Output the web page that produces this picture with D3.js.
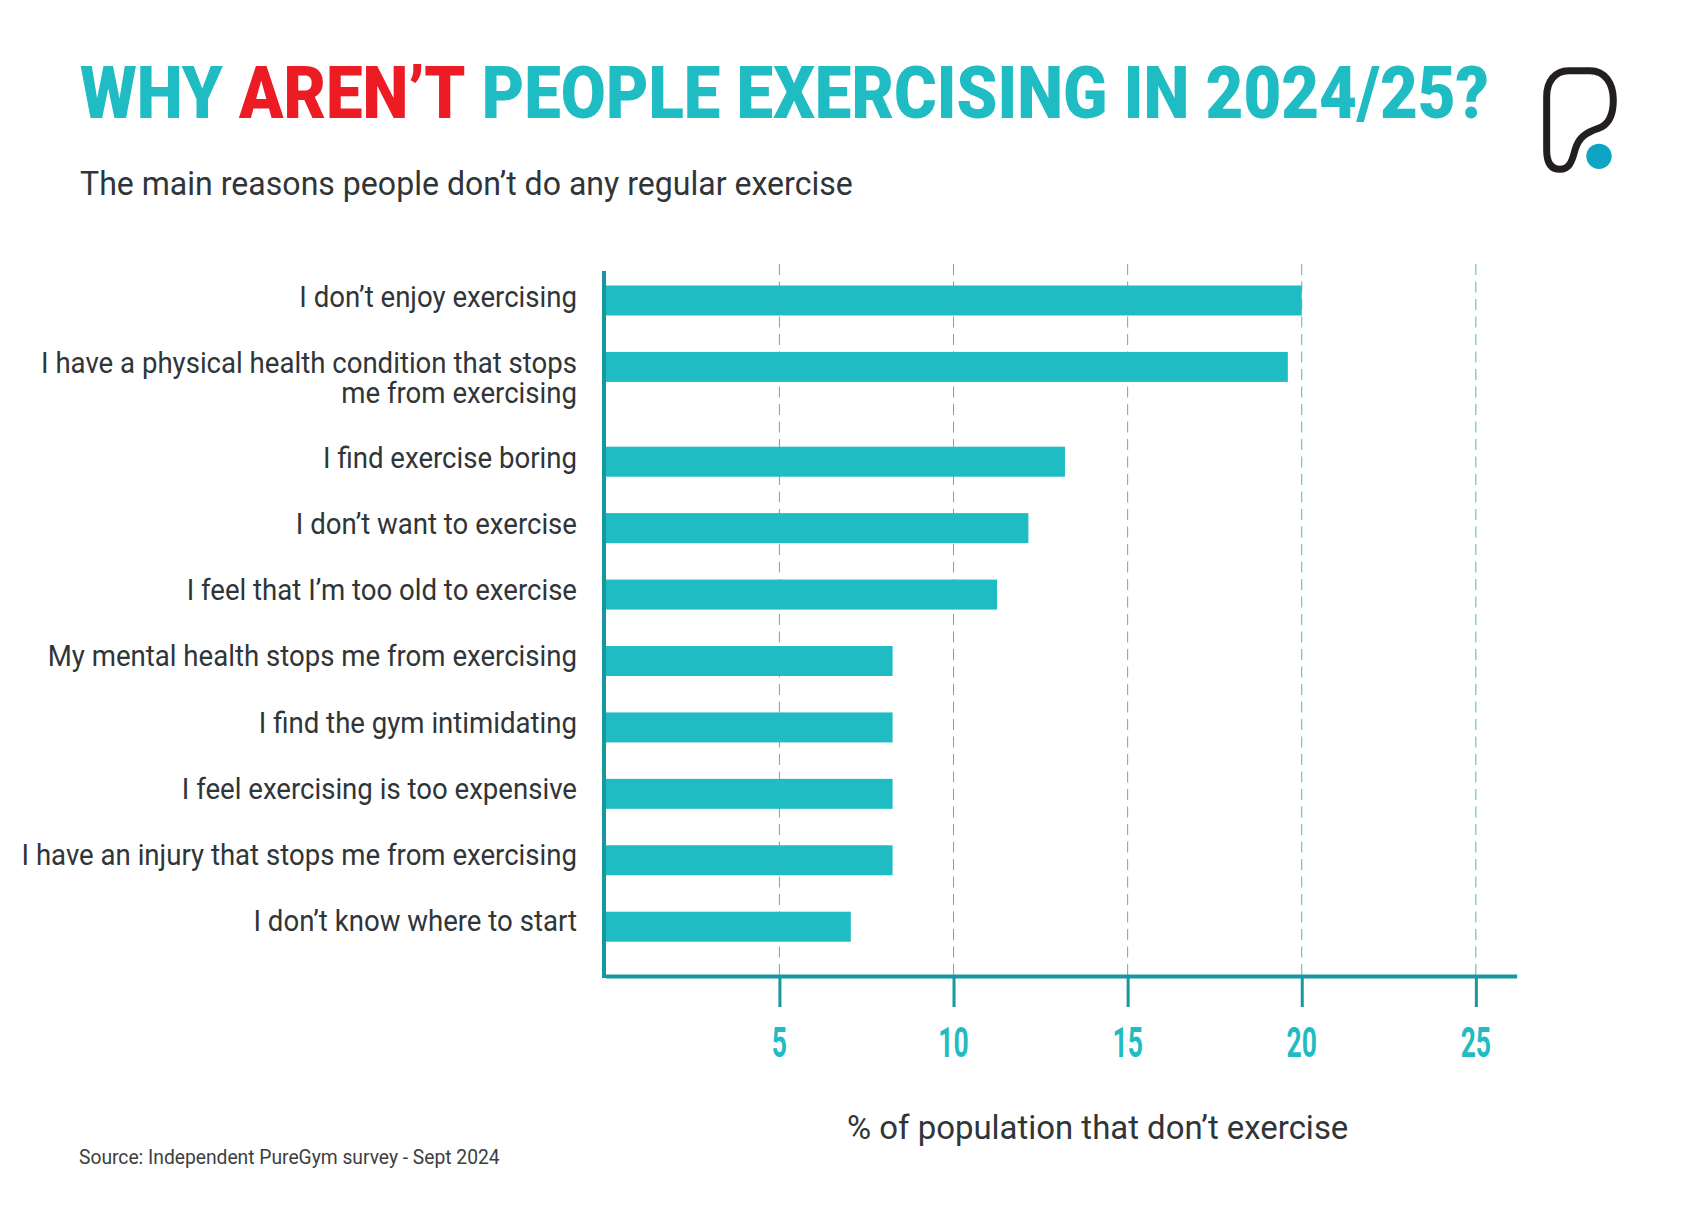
<!DOCTYPE html>
<html>
<head>
<meta charset="utf-8">
<title>Why aren't people exercising in 2024/25?</title>
<script src="https://cdn.jsdelivr.net/npm/d3@7"></script>
<style>
  html, body { margin: 0; background: #fff; }
  svg { display: block; }
  text { font-family: Roboto, "Noto Sans", sans-serif; }
</style>
</head>
<body>
<div id="chart"></div>
<script>
// "\n" marks the wrapped labels, they take up a taller row
const categories = [
  "I don’t enjoy exercising",
  "I have a physical health condition that stops\nme from exercising",
  "I find exercise boring",
  "I don’t want to exercise",
  "I feel that I’m too old to exercise",
  "My mental health stops me from exercising",
  "I find the gym intimidating",
  "I feel exercising is too expensive",
  "I have an injury that stops me from exercising",
  "I don’t know where to start"
]
const values = [20, 19.6, 13.2, 12.15, 11.25, 8.25, 8.25, 8.25, 8.25, 7.05]
const xTicks = [5, 10, 15, 20, 25]
const titleParts = ["WHY ", "AREN’T", " PEOPLE EXERCISING IN 2024/25?"]

const TEAL = "#1fbcc3"
const AXIS = "#17989f"
const GRID = "#4fb6bb"
const RED = "#ed1c24"
const INK = "#2f3538"

const width = 1684
const height = 1217
const plot = { left: 605.3, right: 1516.6, top: 264, bottom: 976 }
const barH = 30
const wrapExtra = 0.427 // extra row height per wrapped line

const svg = d3.select("#chart").append("svg")
  .attr("width", width)
  .attr("height", height)
  .attr("viewBox", `0 0 ${width} ${height}`)

// text helper: Roboto is wider than the original face so squeeze it horizontally
function label(parent, str, x, y, size, k, anchor = "start") {
  return parent.append("text")
    .attr("transform", `translate(${x},${y}) scale(${k},1)`)
    .attr("font-size", size)
    .attr("text-anchor", anchor)
    .attr("fill", INK)
    .text(str)
}

const x = d3.scaleLinear().domain([0, 26.17]).range([plot.left, plot.right])

// row position counts the extra lines of the wrapped labels above it
let slot = 0
const slots = categories.map(c => {
  const s = slot
  slot += 1 + (c.split("\n").length - 1) * wrapExtra
  return s
})
const y = d3.scaleLinear().domain([0, d3.max(slots)]).range([300.5, 926.7])
// label baselines step very slightly tighter than the bars
const yLabel = d3.scaleLinear().domain([0, d3.max(slots)]).range([307.3, 931.2])

// Title
const title = label(svg, null, 80, 118.3, 72, 0.907)
  .attr("font-weight", 900)
title.selectAll("tspan")
  .data(titleParts)
  .enter()
  .append("tspan")
  .attr("fill", (d, i) => i === 1 ? RED : TEAL)
  .attr("xml:space", "preserve")
  .text(d => d)

label(svg, "The main reasons people don’t do any regular exercise", 80, 195, 33, 0.972)

// Gridlines
svg.append("g")
  .selectAll("line")
  .data(xTicks)
  .enter()
  .append("line")
  .attr("x1", d => x(d)).attr("x2", d => x(d))
  .attr("y1", plot.top).attr("y2", plot.bottom)
  .attr("stroke", GRID)
  .attr("stroke-width", 1)
  .attr("stroke-dasharray", "11,6.5")

// Bars
svg.append("g")
  .selectAll("rect")
  .data(values)
  .enter()
  .append("rect")
  .attr("x", x(0))
  .attr("y", (d, i) => y(slots[i]) - barH / 2)
  .attr("width", d => x(d) - x(0))
  .attr("height", barH)
  .attr("fill", TEAL)

// Category labels
const labels = svg.append("g")
categories.forEach((c, i) => {
  c.split("\n").forEach((line, j) => {
    label(labels, line, 577, yLabel(slots[i]) + j * 30, 28.6, 0.965, "end")
  })
})

// Y axis line
svg.append("line")
  .attr("x1", plot.left - 1.3).attr("x2", plot.left - 1.3)
  .attr("y1", 271).attr("y2", plot.bottom + 2)
  .attr("stroke", AXIS)
  .attr("stroke-width", 4)

// X axis
const xAxis = d3.axisBottom(x)
  .tickValues(xTicks)
  .tickSize(31)
  .tickSizeOuter(0)
  .tickFormat(d3.format("d"))

const axisG = svg.append("g")
  .attr("transform", `translate(0,${plot.bottom})`)
  .call(xAxis)

axisG.select(".domain").attr("stroke", AXIS).attr("stroke-width", 4)
axisG.selectAll(".tick line").attr("stroke", AXIS).attr("stroke-width", 3)
axisG.selectAll(".tick text").remove()

xTicks.forEach(t => {
  label(svg, t, x(t), 1056.7, 42, 0.63, "middle")
    .attr("fill", TEAL)
    .attr("font-weight", 700)
})

label(svg, "% of population that don’t exercise", 847, 1139, 33, 0.998)
label(svg, "Source: Independent PureGym survey - Sept 2024", 79, 1164, 21, 0.917)
  .attr("fill", "#3a4042")

// Logo
const logo = svg.append("g").attr("transform", "translate(1530,50) scale(0.3333)")
logo.append("path")
  .attr("d", "M115,62 L180,62 C225,62 250,100 250,150 C250,195 235,225 205,235 C165,248 145,265 135,300 C125,340 115,358 90,358 C65,358 50,340 50,300 L50,140 C50,95 75,62 115,62 Z")
  .attr("fill", "none")
  .attr("stroke", "#231f20")
  .attr("stroke-width", 21)
logo.append("circle")
  .attr("cx", 207).attr("cy", 319).attr("r", 38)
  .attr("fill", "#0ea5c5")
</script>
</body>
</html>
